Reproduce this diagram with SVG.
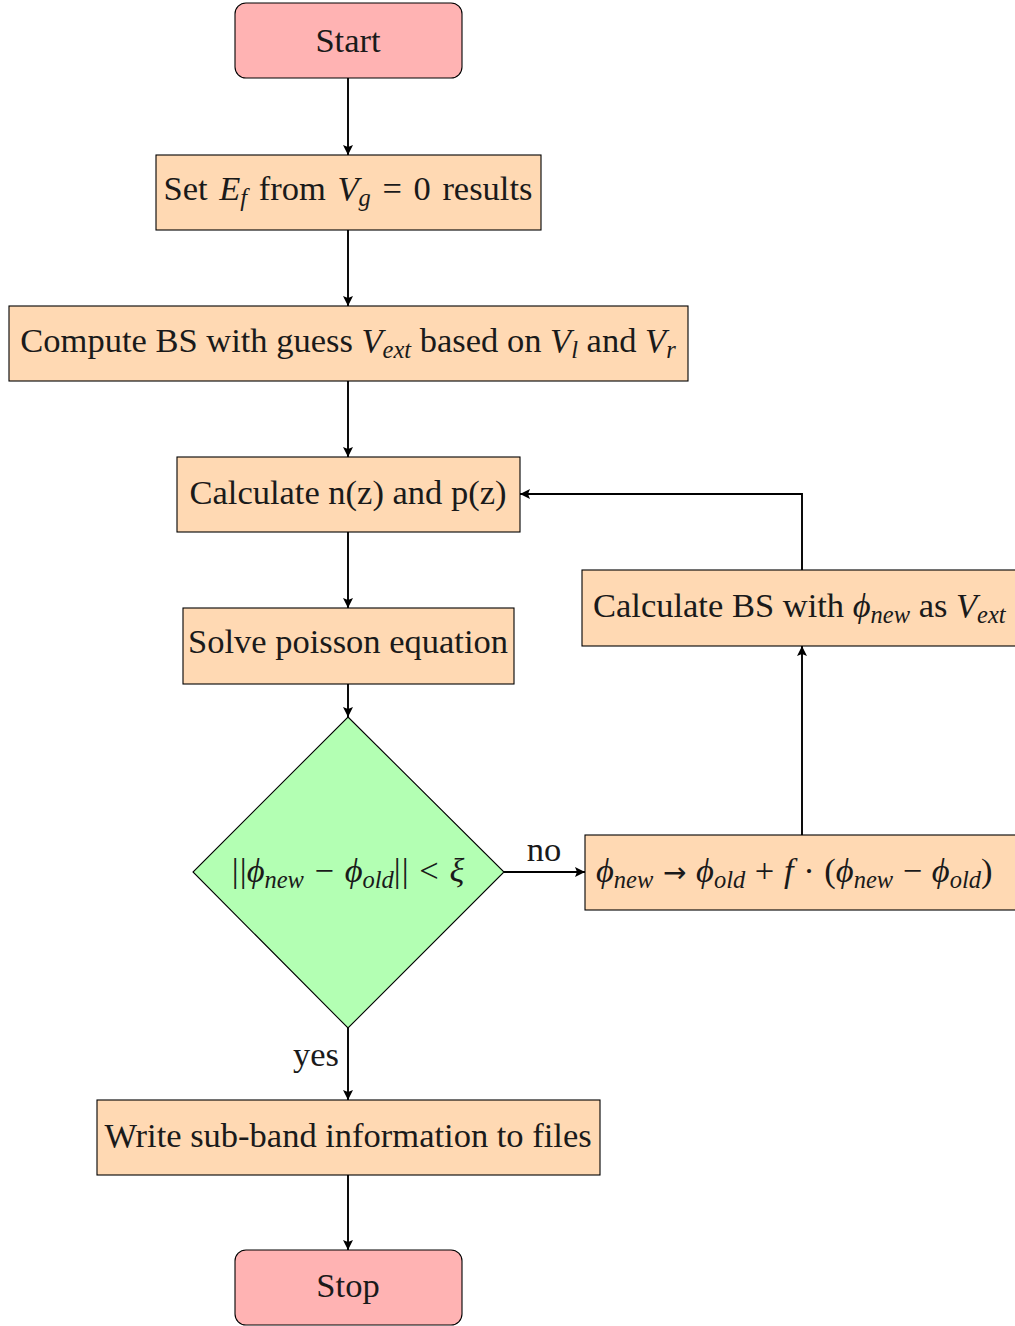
<svg xmlns="http://www.w3.org/2000/svg" width="1015" height="1326" viewBox="0 0 1015 1326">
  <style>
    .term { fill: #FFB3B3; stroke: #000; stroke-width: 1.1; }
    .proc { fill: #FFD9B3; stroke: #000; stroke-width: 1.1; }
    .dec  { fill: #B3FFB3; stroke: #000; stroke-width: 1.1; }
    .lbl  { font-family: "Liberation Serif", "DejaVu Serif", serif; font-size: 34.5px; fill: #1a1a1a; }
    .mid  { text-anchor: middle; }
    .it   { font-style: italic; }
    .sub  { font-size: 24.5px; font-style: italic; }
    .arw  { font-family: "DejaVu Sans", sans-serif; font-size: 28px; }
    .edge { fill: none; stroke: #000; stroke-width: 1.9; marker-end: url(#tip); }
  </style>
  <defs>
    <marker id="tip" markerUnits="userSpaceOnUse" markerWidth="12" markerHeight="10" refX="10" refY="5" orient="auto">
      <path d="M0,0 L10,5 L0,10 L2,5 Z" fill="#000"/>
    </marker>
  </defs>

  <rect x="0" y="0" width="1015" height="1326" fill="#fff"/>

  <!-- connectors -->
  <g id="connectors">
    <path class="edge" d="M348,78 V155"/>
    <path class="edge" d="M348,230 V306"/>
    <path class="edge" d="M348,381 V457"/>
    <path class="edge" d="M348,532 V608"/>
    <path class="edge" d="M348,684 V717"/>
    <path class="edge" d="M348,1028 V1100"/>
    <path class="edge" d="M348,1175 V1250"/>
    <path class="edge" d="M504,872 H585"/>
    <path class="edge" d="M802,835 V646"/>
    <path class="edge" d="M802,570 V494 H520"/>
    <text class="lbl mid" x="544" y="861">no</text>
    <text class="lbl mid" x="316" y="1066">yes</text>
  </g>

  <g id="start">
    <rect class="term" x="235" y="3" width="227" height="75" rx="11"/>
    <text class="lbl mid" x="348" y="52">Start</text>
  </g>

  <g id="set-ef">
    <rect class="proc" x="156" y="155" width="385" height="75"/>
    <text class="lbl mid" x="348" y="200" style="word-spacing:3px">Set <tspan class="it">E</tspan><tspan class="sub" dy="6">f</tspan><tspan dy="-6"> from </tspan><tspan class="it">V</tspan><tspan class="sub" dy="6">g</tspan><tspan dy="-6"> = 0 results</tspan></text>
  </g>

  <g id="compute-bs">
    <rect class="proc" x="9" y="306" width="679" height="75"/>
    <text class="lbl mid" x="348" y="352">Compute BS with guess <tspan class="it">V</tspan><tspan class="sub" dy="6">ext</tspan><tspan dy="-6"> based on </tspan><tspan class="it">V</tspan><tspan class="sub" dy="6">l</tspan><tspan dy="-6"> and </tspan><tspan class="it">V</tspan><tspan class="sub" dy="6">r</tspan></text>
  </g>

  <g id="calc-nz">
    <rect class="proc" x="177" y="457" width="343" height="75"/>
    <text class="lbl mid" x="348" y="504">Calculate n(z) and p(z)</text>
  </g>

  <g id="poisson">
    <rect class="proc" x="183" y="608" width="331" height="76"/>
    <text class="lbl mid" x="348" y="653">Solve poisson equation</text>
  </g>

  <g id="converged">
    <polygon class="dec" points="348,717 504,872 348,1028 193,872"/>
    <text class="lbl mid" x="348" y="882" style="word-spacing:2px">|<tspan dx="1">|</tspan><tspan class="it">ϕ</tspan><tspan class="sub" dy="6">new</tspan><tspan dy="-6"> − </tspan><tspan class="it">ϕ</tspan><tspan class="sub" dy="6">old</tspan><tspan dy="-6">|</tspan><tspan dx="1">|</tspan> &lt; <tspan class="it">ξ</tspan></text>
  </g>

  <g id="write-files">
    <rect class="proc" x="97" y="1100" width="503" height="75"/>
    <text class="lbl mid" x="348" y="1147">Write sub-band information to files</text>
  </g>

  <g id="stop">
    <rect class="term" x="235" y="1250" width="227" height="75" rx="11"/>
    <text class="lbl mid" x="348" y="1297">Stop</text>
  </g>

  <g id="calc-bs-new">
    <rect class="proc" x="582" y="570" width="440" height="76"/>
    <text class="lbl" x="593" y="617">Calculate BS with <tspan class="it">ϕ</tspan><tspan class="sub" dy="6">new</tspan><tspan dy="-6"> as </tspan><tspan class="it">V</tspan><tspan class="sub" dy="6">ext</tspan></text>
  </g>

  <g id="update-phi">
    <rect class="proc" x="585" y="835" width="436" height="75"/>
    <text class="lbl" x="596" y="882" style="word-spacing:1px"><tspan class="it">ϕ</tspan><tspan class="sub" dy="6">new</tspan><tspan dy="-6"> </tspan><tspan class="arw">→</tspan><tspan> </tspan><tspan class="it">ϕ</tspan><tspan class="sub" dy="6">old</tspan><tspan dy="-6"> + </tspan><tspan class="it">f</tspan><tspan> · (</tspan><tspan class="it">ϕ</tspan><tspan class="sub" dy="6">new</tspan><tspan dy="-6"> − </tspan><tspan class="it">ϕ</tspan><tspan class="sub" dy="6">old</tspan><tspan dy="-6">)</tspan></text>
  </g>
</svg>
